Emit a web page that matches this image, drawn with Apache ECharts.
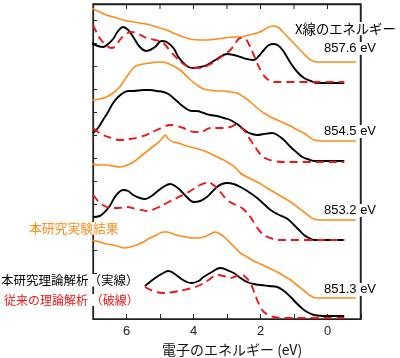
<!DOCTYPE html>
<html><head><meta charset="utf-8">
<script src="https://cdn.jsdelivr.net/npm/echarts@6/dist/echarts.min.js"></script>
<style>html,body{margin:0;padding:0;background:#fff}#c{width:400px;height:358px}</style>
</head><body><div id="c"></div>
<script>
// x: electron energy (eV), y: intensity (arbitrary units, offset stacks)
const exp8576 = [[7.05,311],[6.8,307],[6.6,304],[6.3,301],[6.1,299],[5.8,297],[5.6,296],[5.3,294],[5.1,292],[4.8,289],[4.6,286],[4.3,282],[4.1,280],[3.8,279],[3.6,279],[3.3,280],[3.1,281],[2.8,282],[2.6,282],[2.35,284],[2.1,286],[1.9,289],[1.75,292],[1.6,293],[1.45,291],[1.3,286],[1.1,279],[0.9,272],[0.7,265],[0.5,259],[0.3,257],[0.1,257],[-0.85,257]];
const thA8576 = [[7.05,276],[6.85,273],[6.7,272],[6.55,275],[6.4,280],[6.25,288],[6.1,292],[5.95,289],[5.8,282],[5.6,272],[5.4,268],[5.15,272],[4.95,278],[4.8,277],[4.6,271],[4.45,262],[4.3,256],[4.15,252],[4.0,251],[3.8,252],[3.6,254],[3.3,260],[3.0,265],[2.8,264],[2.6,262],[2.4,260],[2.2,259],[2.05,263],[1.9,269],[1.75,274],[1.6,275],[1.45,273],[1.3,267],[1.1,256],[0.9,247],[0.7,241],[0.5,238],[0.3,236],[0.1,236],[-0.5,236]];
const thB8576 = [[7.0,294],[6.9,287],[6.8,281],[6.65,275],[6.45,271],[6.3,274],[6.2,279],[6.05,284],[5.85,287],[5.65,285],[5.4,281],[5.15,279],[4.9,276],[4.7,268],[4.5,261],[4.3,255],[4.1,252],[3.8,251],[3.55,254],[3.3,259],[3.1,264],[2.9,269],[2.75,276],[2.6,281],[2.45,280],[2.35,275],[2.2,264],[2.1,256],[1.95,246],[1.8,240],[1.6,237],[1.4,237],[-0.5,237]];

const exp8545 = [[7.05,219],[6.8,220],[6.6,222],[6.4,226],[6.2,232],[6.0,242],[5.8,251],[5.65,254],[5.5,255],[5.3,256],[5.1,257],[4.95,257],[4.8,256],[4.6,253],[4.4,249],[4.15,241],[3.9,234],[3.7,230],[3.5,229],[3.3,228],[3.1,228],[2.9,227],[2.7,226],[2.5,222],[2.3,217],[2.1,211],[1.9,206],[1.7,202],[1.5,199],[1.3,196],[1.1,193],[0.9,189],[0.7,186],[0.55,182],[0.4,179],[0.2,178],[-0.85,178]];
const thA8545 = [[7.0,186],[6.85,191],[6.7,199],[6.55,207],[6.4,216],[6.25,222],[6.1,226],[5.95,228],[5.8,228],[5.5,229],[5.3,229],[5.1,228],[4.9,227],[4.75,225],[4.6,221],[4.4,215],[4.2,210],[4.05,208],[3.9,208],[3.7,206],[3.5,204],[3.3,203],[3.1,201],[2.9,199],[2.7,195],[2.55,191],[2.4,187],[2.25,185],[2.1,184],[1.9,185],[1.65,186],[1.5,184],[1.3,179],[1.1,172],[0.9,166],[0.75,162],[0.6,160],[0.35,158],[0.1,158],[-0.5,158]];
const thB8545 = [[7.0,191],[6.85,187],[6.7,184],[6.45,181],[6.2,179],[5.9,180],[5.6,182],[5.35,185],[5.1,189],[4.9,192],[4.7,194],[4.5,193],[4.3,191],[4.1,188],[3.9,187],[3.7,188],[3.5,191],[3.3,191],[3.1,191],[2.9,192],[2.75,194],[2.6,192],[2.45,187],[2.3,179],[2.1,169],[1.95,163],[1.8,160],[1.6,158],[1.3,157],[-0.5,157]];

const exp8532 = [[7.05,155],[6.8,154],[6.6,154],[6.4,153],[6.2,152],[6.05,153],[5.9,155],[5.75,158],[5.6,162],[5.45,166],[5.3,170],[5.15,174],[5.0,178],[4.9,182],[4.85,184],[4.75,180],[4.6,177],[4.45,176],[4.3,174],[4.1,172],[3.85,170],[3.6,167],[3.35,163],[3.1,159],[2.95,156],[2.8,153],[2.6,146],[2.35,141],[2.1,137],[1.85,132],[1.6,127],[1.35,122],[1.1,117],[0.9,112],[0.7,107],[0.55,103],[0.4,100],[0.2,99],[-0.85,99]];
const thA8532 = [[7.0,102],[6.8,103],[6.65,107],[6.5,113],[6.4,119],[6.25,126],[6.1,129],[5.95,128],[5.8,124],[5.6,121],[5.45,120],[5.3,122],[5.1,127],[4.9,132],[4.7,135],[4.55,133],[4.4,129],[4.2,122],[4.0,117],[3.8,118],[3.6,122],[3.45,127],[3.3,132],[3.15,135],[3.0,136],[2.8,135],[2.6,132],[2.35,127],[2.1,121],[1.9,115],[1.7,109],[1.5,105],[1.3,102],[1.15,99],[1.0,94],[0.85,89],[0.7,84],[0.55,81],[0.4,79],[0.1,79],[-0.5,79]];
const thB8532 = [[7.0,124],[6.9,120],[6.8,116],[6.65,113],[6.5,111],[6.25,111],[6.0,112],[5.7,110],[5.35,108],[5.1,111],[4.8,116],[4.5,121],[4.2,126],[4.0,130],[3.8,134],[3.65,136],[3.55,137],[3.45,135],[3.3,131],[3.15,125],[3.0,119],[2.8,115],[2.6,112],[2.45,108],[2.3,102],[2.15,94],[2.0,87],[1.85,83],[1.7,81],[1.5,79],[1.3,79],[-0.5,79]];

const exp8513 = [[7.05,79],[6.8,77],[6.6,75],[6.4,74],[6.2,72],[6.05,71],[5.9,72],[5.7,74],[5.5,77],[5.3,81],[5.1,84],[4.9,87],[4.8,87],[4.6,85],[4.4,83],[4.2,82],[4.05,81],[3.85,81],[3.7,82],[3.5,85],[3.35,87],[3.2,85],[3.05,81],[2.9,76],[2.75,71],[2.6,66],[2.4,62],[2.2,58],[2.0,55],[1.75,51],[1.5,47],[1.3,43],[1.1,39],[0.95,35],[0.8,31],[0.65,27],[0.5,23],[0.35,21],[0.1,21],[-0.85,21]];
const thA8513 = [[5.45,33],[5.3,37],[5.1,42],[4.9,46],[4.75,48],[4.6,46],[4.4,41],[4.2,37],[4.05,36],[3.85,38],[3.7,42],[3.45,47],[3.2,51],[3.0,49],[2.8,46],[2.6,41],[2.4,37],[2.2,35],[2.0,34],[1.75,33],[1.5,32],[1.3,28],[1.1,22],[0.9,15],[0.7,9],[0.55,6],[0.4,4],[0.1,3],[-0.5,3]];
const thB8513 = [[5.45,32],[5.2,28],[4.9,26],[4.6,27],[4.3,29],[4.05,31],[3.8,34],[3.55,39],[3.3,44],[3.1,43],[2.9,41],[2.7,43],[2.55,44],[2.42,41],[2.3,36],[2.2,28],[2.1,19],[2.0,12],[1.9,7],[1.75,4],[1.6,2],[1.3,1],[-0.5,1]];

const xTickLabels = [6,4,2,0];
const xTopTicks = [6,5,4,3,2,1,0];
const X_MIN = -1, X_MAX = 7, Y_MIN = 0, Y_MAX = 315;
const energyLabels = ['857.6 eV','854.5 eV','853.2 eV','851.3 eV'];
const energyLabelY = [50,133,212,291];

const ORANGE = '#FF8C1A', RED = '#F01414', BLACK = '#000';
const groups = [[exp8576,thA8576,thB8576],[exp8545,thA8545,thB8545],[exp8532,thA8532,thB8532],[exp8513,thA8513,thB8513]];
const series = [];
groups.forEach(g => {
  series.push({type:'line', data:g[0], showSymbol:false, smooth:0.3, lineStyle:{color:ORANGE,width:1.6}, z:2, animation:false});
  series.push({type:'line', data:g[1], showSymbol:false, smooth:0.4, lineStyle:{color:BLACK,width:1.9}, z:3, animation:false});
  series.push({type:'line', data:g[2], showSymbol:false, smooth:0.4, lineStyle:{color:RED,width:1.9,type:[8,5]}, z:4, animation:false});
});

const axisCol = '#222';
const chart = echarts.init(document.getElementById('c'));
const jp = '"Noto Sans CJK JP", sans-serif';

chart.setOption({
  animation:false,
  grid:{left:93, right:39, top:4, bottom:39, show:true, borderColor:axisCol, borderWidth:1.3},
  xAxis:{
    type:'value', inverse:true, min:X_MIN, max:X_MAX, interval:1, position:'bottom',
    axisLine:{onZero:false,lineStyle:{color:axisCol,width:1.2}},
    axisTick:{inside:true,length:5,lineStyle:{color:axisCol}},
    axisLabel:{fontSize:13, color:'#222', fontFamily:'"Liberation Sans", Arial, sans-serif', margin:6,
      formatter:v=> xTickLabels.indexOf(v)>=0 ? String(v) : ''},
    splitLine:{show:false}
  },
  yAxis:[{
    type:'value', min:Y_MIN, max:Y_MAX, position:'left',
    axisLine:{show:true,onZero:false,lineStyle:{color:axisCol,width:1.2}},
    axisTick:{show:false}, axisLabel:{show:false}, splitLine:{show:false}
  },{
    type:'value', min:5, max:320, interval:23, position:'left',
    axisLine:{show:false,onZero:false},
    axisTick:{show:true,inside:true,length:4,lineStyle:{color:axisCol}},
    axisLabel:{show:false}, splitLine:{show:false}
  }],
  series:series
});

// top and right frame edges plus top ticks, placed through the chart's own scales
const tl = chart.convertToPixel({xAxisIndex:0, yAxisIndex:0}, [X_MAX, Y_MAX]);
const br = chart.convertToPixel({xAxisIndex:0, yAxisIndex:0}, [X_MIN, Y_MIN]);
const graphics = [];
graphics.push({type:'line', z:50, silent:true, shape:{x1:tl[0], y1:tl[1]+0.5, x2:br[0], y2:tl[1]+0.5}, style:{stroke:axisCol, lineWidth:1.4}});
graphics.push({type:'line', z:50, silent:true, shape:{x1:br[0]-0.5, y1:tl[1], x2:br[0]-0.5, y2:br[1]}, style:{stroke:axisCol, lineWidth:1.4}});
xTopTicks.forEach(v => {
  const p = chart.convertToPixel({xAxisIndex:0, yAxisIndex:0}, [v, Y_MAX]);
  graphics.push({type:'line', z:50, silent:true, shape:{x1:p[0], y1:p[1], x2:p[0], y2:p[1]+5}, style:{stroke:axisCol, lineWidth:1}});
});
graphics.push({type:'text', left:295, top:22, z:100, style:{text:'X線のエネルギー', font:'13.3px ' + jp, fill:'#000', backgroundColor:'#fff'}});
energyLabels.forEach((t,i)=>{
  graphics.push({type:'text', left:323, top:energyLabelY[i]-8, z:100, style:{text:t, font:'13px "Liberation Sans", Arial, sans-serif', fill:'#000', backgroundColor:'#fff', padding:[0,0,0,1]}});
});
graphics.push({type:'text', left:29, top:222, z:100, style:{text:'本研究実験結果', font:'12.8px ' + jp, fill:ORANGE, backgroundColor:'#fff'}});
graphics.push({type:'text', left:1, top:274, z:100, style:{text:'本研究理論解析（実線）', font:'12.5px ' + jp, fill:'#000', backgroundColor:'#fff'}});
graphics.push({type:'text', left:4, top:294, z:100, style:{text:'従来の理論解析 （破線）', font:'12px ' + jp, fill:RED, backgroundColor:'#fff'}});
graphics.push({type:'text', left:162, top:343, z:100, style:{text:'電子のエネルギー (eV)', font:'14px ' + jp, fill:'#111'}});
chart.setOption({graphic:graphics});
</script></body></html>
